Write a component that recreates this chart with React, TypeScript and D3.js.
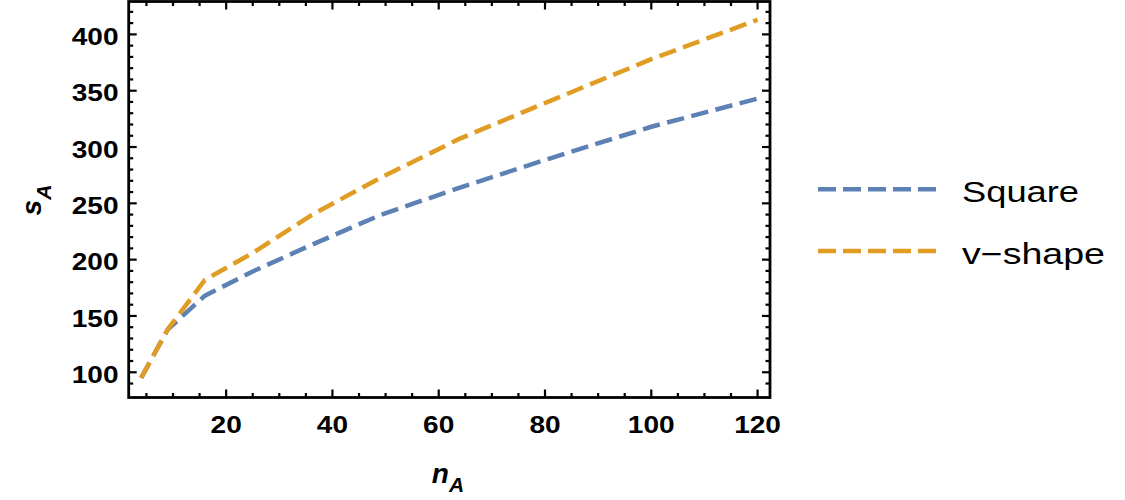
import React, { useEffect, useRef } from 'react';
import * as d3 from 'd3';

// n_A sample points and the two s_A series
const N_VALUES = [4, 9, 16, 25, 36, 49, 64, 81, 100, 120];
const SQUARE_VALUES = [95, 138, 168, 189.5, 213, 239.6, 264, 290, 318, 343];
const VSHAPE_VALUES = [95, 138, 182, 206, 239.4, 272.6, 307.5, 341, 378, 413];

const SERIES_NAMES = ['Square', 'v\u2212shape'];
const SERIES_COLORS = ['#5E81B5', '#E19C24'];

const X_MAJOR = [20, 40, 60, 80, 100, 120];
const Y_MAJOR = [100, 150, 200, 250, 300, 350, 400];

const FONT = '"Liberation Sans", Arial, Helvetica, sans-serif';

export default function App() {
  const ref = useRef<SVGSVGElement>(null);

  useEffect(() => {
    const svgEl = ref.current;
    if (!svgEl) return;
    const svg = d3.select(svgEl);
    svg.selectAll('*').remove();

    const frame = { left: 128.7, right: 770, top: 1.5, bottom: 397.5 };

    const x = d3.scaleLinear().domain([1.66, 122.34]).range([frame.left, frame.right]);
    const y = d3.scaleLinear().domain([77.6, 429.2]).range([frame.bottom, frame.top]);

    const xMinor = d3.range(5, 121, 5).filter((v) => !X_MAJOR.includes(v));
    const yMinor = d3.range(90, 421, 10).filter((v) => !Y_MAJOR.includes(v));

    // ticks point inward on all four sides
    const ticks = svg.append('g').attr('stroke', '#000').attr('stroke-width', 2.2);
    const addXTicks = (vals: number[], len: number) => {
      vals.forEach((v) => {
        const px = x(v);
        ticks.append('line').attr('x1', px).attr('x2', px).attr('y1', frame.bottom).attr('y2', frame.bottom - len);
        ticks.append('line').attr('x1', px).attr('x2', px).attr('y1', frame.top).attr('y2', frame.top + len);
      });
    };
    const addYTicks = (vals: number[], len: number) => {
      vals.forEach((v) => {
        const py = y(v);
        ticks.append('line').attr('x1', frame.left).attr('x2', frame.left + len).attr('y1', py).attr('y2', py);
        ticks.append('line').attr('x1', frame.right).attr('x2', frame.right - len).attr('y1', py).attr('y2', py);
      });
    };
    addXTicks(X_MAJOR, 8);
    addXTicks(xMinor, 4.5);
    addYTicks(Y_MAJOR, 8);
    addYTicks(yMinor, 4.5);

    svg
      .append('rect')
      .attr('x', frame.left)
      .attr('y', frame.top)
      .attr('width', frame.right - frame.left)
      .attr('height', frame.bottom - frame.top)
      .attr('fill', 'none')
      .attr('stroke', '#000')
      .attr('stroke-width', 2.8);

    // tick labels
    svg
      .selectAll('text.xl')
      .data(X_MAJOR)
      .join('text')
      .attr('class', 'xl')
      .attr('x', (d) => x(d))
      .attr('y', 432.5)
      .attr('text-anchor', 'middle')
      .attr('font-family', FONT)
      .attr('font-weight', 700)
      .attr('font-size', 23.5)
      .attr('textLength', (d) => String(d).length * 15.6)
      .attr('lengthAdjust', 'spacingAndGlyphs')
      .text((d) => d);

    svg
      .selectAll('text.yl')
      .data(Y_MAJOR)
      .join('text')
      .attr('class', 'yl')
      .attr('x', 118.5)
      .attr('y', (d) => y(d) + 10.7)
      .attr('text-anchor', 'end')
      .attr('font-family', FONT)
      .attr('font-weight', 700)
      .attr('font-size', 23.5)
      .attr('textLength', (d) => String(d).length * 15.6)
      .attr('lengthAdjust', 'spacingAndGlyphs')
      .text((d) => d);

    // data lines
    const seriesValues = [SQUARE_VALUES, VSHAPE_VALUES];
    const line = d3
      .line<number>()
      .x((_, i) => x(N_VALUES[i]))
      .y((d) => y(d));

    seriesValues.forEach((vals, i) => {
      svg
        .append('path')
        .attr('d', line(vals) ?? '')
        .attr('fill', 'none')
        .attr('stroke', SERIES_COLORS[i])
        .attr('stroke-width', 4.5)
        .attr('stroke-dasharray', '17.5 7.5')
        .attr('stroke-linejoin', 'round');
    });

    // axis titles
    const yTitle = svg
      .append('text')
      .attr('transform', 'translate(41,200) rotate(-90)')
      .attr('text-anchor', 'middle')
      .attr('font-family', FONT)
      .attr('font-weight', 700)
      .attr('font-style', 'italic');
    yTitle.append('tspan').attr('font-size', 28).text('s');
    yTitle.append('tspan').attr('font-size', 21).attr('dy', 9.5).text('A');

    const xTitle = svg
      .append('text')
      .attr('x', 448)
      .attr('y', 483)
      .attr('text-anchor', 'middle')
      .attr('font-family', FONT)
      .attr('font-weight', 700)
      .attr('font-style', 'italic');
    xTitle.append('tspan').attr('font-size', 28).text('n');
    xTitle.append('tspan').attr('font-size', 21).attr('dy', 9).text('A');

    // legend
    const legendY = [189.3, 251];
    const legendWidths = [117, 143];
    SERIES_NAMES.forEach((name, i) => {
      svg
        .append('line')
        .attr('x1', 818)
        .attr('x2', 936)
        .attr('y1', legendY[i])
        .attr('y2', legendY[i])
        .attr('stroke', SERIES_COLORS[i])
        .attr('stroke-width', 4.5)
        .attr('stroke-dasharray', '18 7');
      svg
        .append('text')
        .attr('x', 962)
        .attr('y', legendY[i] + 13)
        .attr('font-family', FONT)
        .attr('font-size', 29)
        .attr('fill', '#000')
        .attr('textLength', legendWidths[i])
        .attr('lengthAdjust', 'spacingAndGlyphs')
        .text(name);
    });
  }, []);

  return (
    <div style={{ position: 'fixed', left: 0, top: 0, width: 1125, height: 500, background: '#fff' }}>
      <svg ref={ref} width={1125} height={500} aria-label="s_A versus n_A for Square and v-shape" />
    </div>
  );
}
